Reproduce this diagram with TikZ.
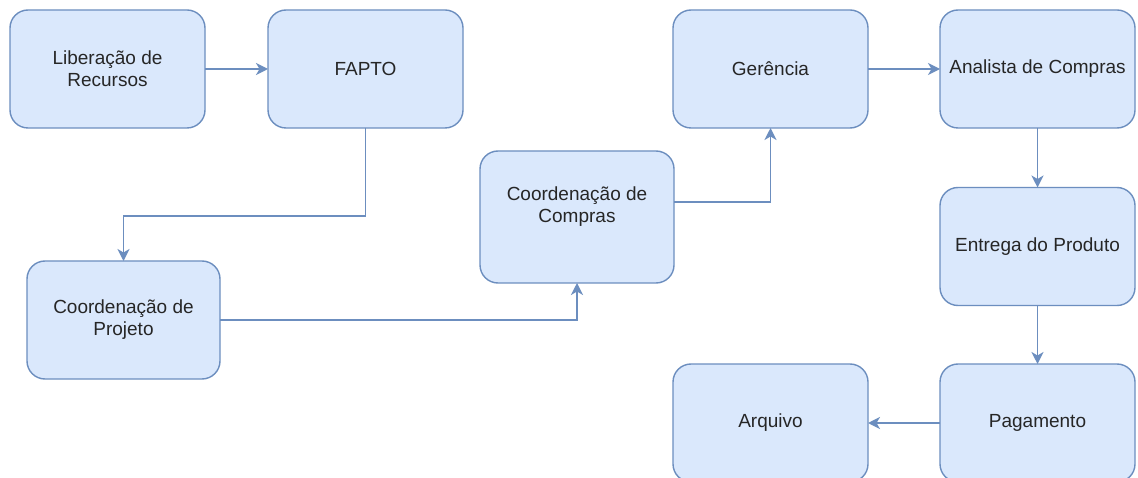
\documentclass[tikz,border=0pt]{standalone}
\usepackage{fontspec}
\setmainfont{Liberation Sans}
\usetikzlibrary{arrows.meta,calc}
\definecolor{boxfill}{HTML}{DAE8FC}
\definecolor{boxline}{HTML}{6C8EBF}
\definecolor{txtcol}{HTML}{262626}
\tikzset{
  box/.style={draw=boxline, fill=boxfill, line width=1.4pt, rounded corners=18pt,
    minimum width=195pt, minimum height=118pt, inner sep=0pt, outer sep=0pt,
    align=center, text=txtcol, font=\fontsize{19}{22}\selectfont},
  txt/.style={align=center, text=txtcol, font=\fontsize{19}{22}\selectfont, inner sep=0pt},
  conn/.style={draw=boxline, line width=1.5pt,
    -{Stealth[length=12pt,width=12pt,inset=3.5pt]}},
}
\begin{document}
\begin{tikzpicture}[x=1pt,y=-1pt]
\clip (0,0) rectangle (1138,478);
\fill[white] (0,0) rectangle (1138,478);
\node[box] (lib) at (107.5,69) {Liberação de\\Recursos};
\node[box] (fapto) at (365.5,69) {FAPTO};
\node[box] (ger) at (770.5,69) {Gerência};
\node[box] (ana) at (1037.5,69) {Analista de Compras};
\node[box, minimum width=193pt] (cp) at (123.5,320) {Coordenação de\\Projeto};
\node[box, minimum width=194pt, minimum height=132pt] (cc) at (577,217) {};
\node[txt] (cctext) at (577,207) {Coordenação de\\Compras};
\node[box] (ent) at (1037.5,246.5) {Entrega do Produto};
\node[box] (pag) at (1037.5,423) {Pagamento};
\node[box] (arq) at (770.5,423) {Arquivo};
\draw[conn] (lib.east) -- (fapto.west);
\draw[conn] (fapto.south) |- ($(cp.north)+(0,-45)$) -- (cp.north);
\draw[conn] (cp.east) -| (cc.south);
\draw[conn] ([yshift=15pt]cc.east) -| (ger.south);
\draw[conn] (ger.east) -- (ana.west);
\draw[conn] (ana.south) -- (ent.north);
\draw[conn] (ent.south) -- (pag.north);
\draw[conn] (pag.west) -- (arq.east);
\end{tikzpicture}
\end{document}
